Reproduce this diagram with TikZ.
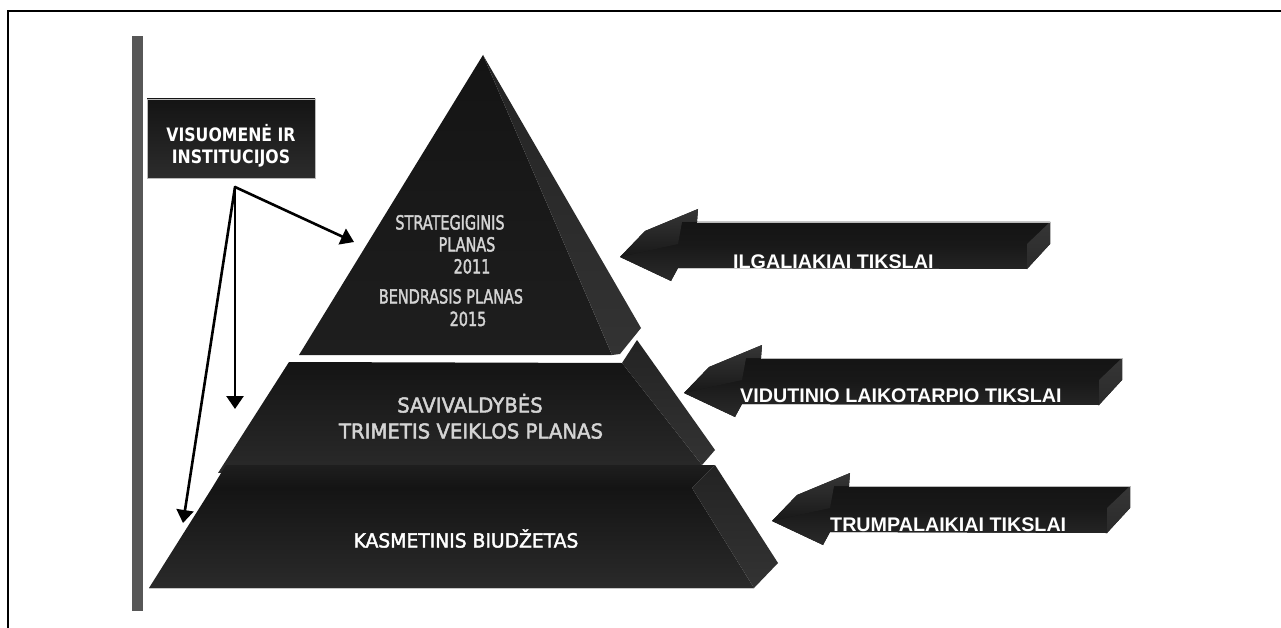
\documentclass[tikz,border=0pt]{standalone}
\usepackage{graphicx}
\usepackage{fontspec}
\setmainfont{DejaVu Sans}
\newfontfamily\libsans{Liberation Sans}
\newfontfamily\pyrfont[FakeBold=2.2]{DejaVu Sans}
\usetikzlibrary{arrows.meta}

\definecolor{barcol}{HTML}{575757}
\definecolor{pyrtxt}{HTML}{D4D4D4}
\definecolor{boxtop}{HTML}{141414}
\definecolor{boxbot}{HTML}{2C2C2C}
\definecolor{faceA}{HTML}{141414}
\definecolor{faceB}{HTML}{1E1E1E}
\definecolor{faceC}{HTML}{2A2A2A}
\definecolor{sideA}{HTML}{232323}
\definecolor{sideB}{HTML}{333333}
\definecolor{arrA}{HTML}{181818}
\definecolor{arrB}{HTML}{2A2A2A}
\definecolor{arrC}{HTML}{363636}

\newcommand{\goalarrow}[3]{%
  \begin{scope}[shift={(#1,#2)}]
    \fill[arrA] (0,0) -- (25,-26) -- (78,-48) -- (77,-35) -- (#3,-35) -- (#3,-13)
      -- (#3-23,12) -- (58,11) -- (51,24) -- cycle;
    \shade[top color=arrA, bottom color=arrB] (58,-13) -- (#3-23,-13) -- (#3-23,12)
      -- (58,11) -- (51,24) -- (0,0) -- cycle;
    \shade[top color=black!92, bottom color=arrA] (62,-35) -- (#3,-35) -- (#3-23,-13) -- (58,-13) -- cycle;
    \shade[top color=arrC, bottom color=arrB] (#3,-35) -- (#3,-13) -- (#3-23,12) -- (#3-23,-13) -- cycle;
    \shade[top color=arrC, bottom color=arrA] (0,0) -- (25,-26) -- (78,-48) -- (77,-35) -- (62,-35) -- (58,-13) -- cycle;
    \draw[gray!55, line width=0.5pt] (77,-35) -- (#3,-35) -- (#3,-13);
  \end{scope}}

\begin{document}
\begin{tikzpicture}[x=1pt,y=-1pt,
  conn/.style={line width=2.6pt, line cap=round, -{Triangle[length=13pt,width=17pt]}},
  visbox/.style={draw=gray!55, line width=0.6pt, top color=boxtop, bottom color=boxbot,
    minimum width=168pt, minimum height=79pt, inner sep=0pt},
  boxtext/.style={text=white, inner sep=0pt, align=center,
    font=\bfseries\fontsize{18.5}{22}\selectfont},
  toptext/.style={text=pyrtxt, inner sep=0pt, anchor=base, font=\pyrfont\fontsize{19.5}{22}\selectfont},
  midtext/.style={text=pyrtxt, inner sep=0pt, anchor=base, font=\pyrfont\fontsize{20.5}{24}\selectfont},
  bottext/.style={text=white, inner sep=0pt, anchor=base, font=\pyrfont\fontsize{19.5}{24}\selectfont},
  goaltext/.style={text=white, inner sep=0pt, anchor=base west,
    font=\libsans\bfseries\fontsize{19.7}{22}\selectfont}]

\useasboundingbox (0,0) rectangle (1281,628);
\fill[white] (0,0) rectangle (1281,628);

% frame and bar
\draw[line width=1.6pt] (8,628) -- (8,11) -- (1281,11);
\fill[barcol] (132,36) rectangle (143,611);

% ---------- pyramid ----------
% top tier
\shade[top color=faceA, bottom color=faceB] (483,55) -- (299,355) -- (612,355) -- cycle;
\shade[top color=sideA, bottom color=sideB] (483,55) -- (641,328) -- (620,354) -- (612,355) -- cycle;
% middle tier
\shade[top color=faceA, bottom color=faceC] (289,362) -- (622,363) -- (702,465) -- (218,473) -- cycle;
\shade[top color=sideA, bottom color=sideB] (622,363) -- (637,340) -- (715,450) -- (702,465) -- cycle;
% bottom tier
\shade[top color=faceB, bottom color=faceA] (226,465) -- (715,465) -- (692,488) -- (212,488) -- cycle;
\shade[top color=faceA, bottom color=faceC] (212,488) -- (692,488) -- (754,588) -- (149,588) -- cycle;
\shade[top color=sideA, bottom color=sideB] (692,488) -- (715,465) -- (778,563) -- (754,588) -- cycle;
\draw[gray!45, line width=0.6pt] (149,588) -- (754,588);

% pyramid texts
\node[toptext] (s1) at (450,229.5) {\scalebox{0.74}[1]{STRATEGIGINIS}};
\node[toptext] (s2) at (467,251.5) {\scalebox{0.74}[1]{PLANAS}};
\node[toptext] (s3) at (472,273.5) {\scalebox{0.74}[1]{2011}};
\node[toptext] (b1) at (451,303.5) {\scalebox{0.74}[1]{BENDRASIS PLANAS}};
\node[toptext] (b2) at (468,326) {\scalebox{0.74}[1]{2015}};
\node[midtext] (m1) at (470,412.5) {\scalebox{0.96}[1]{SAVIVALDYBĖS}};
\node[midtext] (m2) at (471,438.5) {\scalebox{0.96}[1]{TRIMETIS VEIKLOS PLANAS}};
\node[bottext] (k1) at (466,547.5) {\scalebox{0.96}[1]{KASMETINIS BIUDŽETAS}};

% ---------- goal arrows ----------
\goalarrow{620}{257}{430}
\goalarrow{684}{393}{438}
\goalarrow{772}{521}{358}
\node[goaltext] (g1) at (733,268) {ILGALIAKIAI TIKSLAI};
\node[goaltext] (g2) at (740,402.5) {VIDUTINIO LAIKOTARPIO TIKSLAI};
\node[goaltext] (g3) at (830,531) {TRUMPALAIKIAI TIKSLAI};

% ---------- society box and connectors ----------
\node[visbox] (vis) at (231,138.5) {};
\node[boxtext] (vistext) at (231,146) {\scalebox{0.85}[1]{VISUOMENĖ IR}\\\scalebox{0.85}[1]{INSTITUCIJOS}};

\coordinate (src) at (235,187);
\coordinate (t1) at (354,242);
\coordinate (t2) at (235,409);
\coordinate (t3) at (183,523);
\draw[conn] (src) -- (t1);
\draw[conn] (src) -- (t2);
\draw[conn] (src) -- (t3);

\end{tikzpicture}
\end{document}
